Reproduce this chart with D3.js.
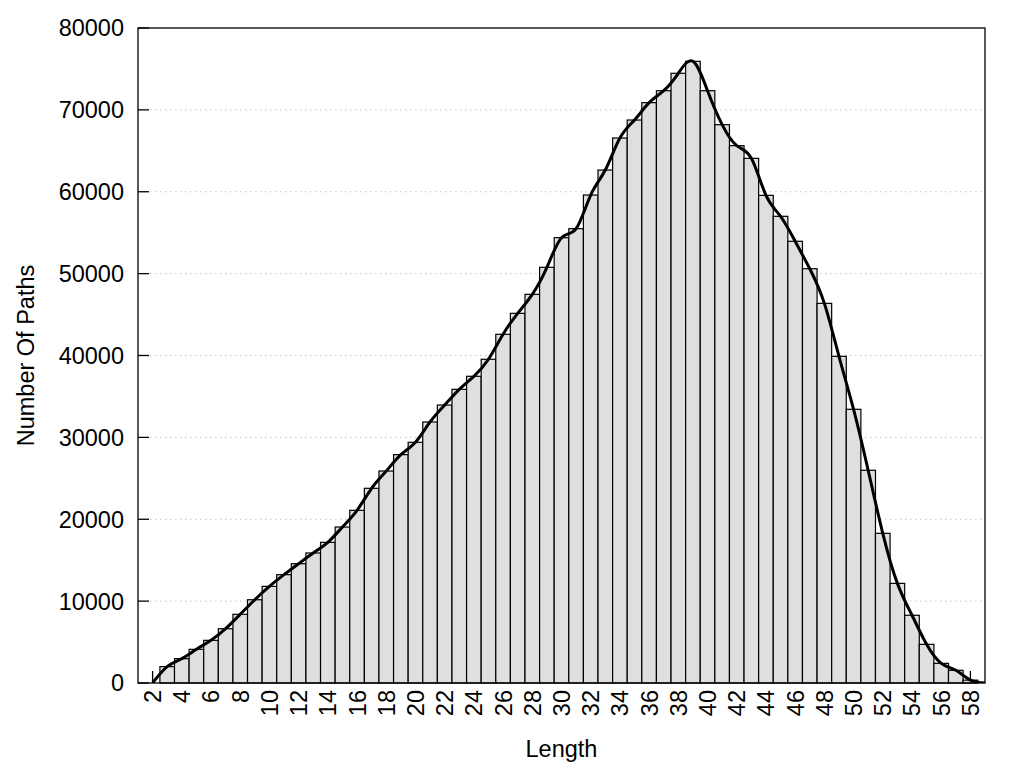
<!DOCTYPE html>
<html>
<head>
<meta charset="utf-8">
<script src="https://d3js.org/d3.v7.min.js"></script>
<style>
  body { margin: 0; background: #fff; }
  text { font-family: "Liberation Sans", Arial, sans-serif; fill: #000; }
</style>
</head>
<body>
<div id="my_hist"></div>
<script>

// ======================= //
// DATA
// ======================= //

// path lengths (x) and number of paths (y)
var lengths = [2, 3, 4, 5, 6, 7, 8, 9, 10, 11, 12, 13, 14, 15, 16, 17, 18, 19, 20,
  21, 22, 23, 24, 25, 26, 27, 28, 29, 30, 31, 32, 33, 34, 35, 36, 37, 38, 39, 40,
  41, 42, 43, 44, 45, 46, 47, 48, 49, 50, 51, 52, 53, 54, 55, 56, 57, 58, 59]
var counts = [0, 2000, 2970, 4110, 5210, 6630, 8390, 10170, 11800, 13230, 14570, 15880, 17180, 19050, 21090, 23780, 25890, 27890, 29400,
  31880, 33950, 35870, 37460, 39540, 42590, 45150, 47470, 50770, 54390, 55490, 59600, 62650, 66560, 68760, 70880, 72340, 74470, 75930, 72340,
  68190, 65630, 64080, 59560, 57000, 53950, 50600, 46370, 39900, 33430, 25980, 18280, 12170, 8270, 4720, 2400, 1550, 350, 0]

var xTicks = d3.range(2, 59, 2)
var yTicks = [0, 10000, 20000, 30000, 40000, 50000, 60000, 70000, 80000]

var data = lengths.map(function(d, i){ return {len: d, value: counts[i]} })

// ======================= //
// SVG AREA
// ======================= //

var margin = {top: 28, right: 39, bottom: 85, left: 138},
    width = 1024 - margin.left - margin.right,
    height = 768 - margin.top - margin.bottom;

var svg = d3.select("#my_hist")
  .append("svg")
    .attr("width", 1024)
    .attr("height", 768)
  .append("g")
    .attr("transform", "translate(" + margin.left + "," + margin.top + ")");

// scales
var x = d3.scaleLinear()
  .domain([1, 59])
  .range([0, width])

var y = d3.scaleLinear()
  .domain([0, 80000])
  .range([height, 0])

svg.append("clipPath")
    .attr("id", "plotClip")
  .append("rect")
    .attr("width", width)
    .attr("height", height)

// ======================= //
// GRID + TICKS (behind the bars)
// ======================= //

svg.selectAll("gridLines")
  .data(yTicks.slice(1, -1))
  .enter()
  .append("line")
    .attr("x1", 12)
    .attr("x2", width)
    .attr("y1", function(d){ return y(d) })
    .attr("y2", function(d){ return y(d) })
    .attr("stroke", "#c4c4c4")
    .attr("stroke-width", 1)
    .style("stroke-dasharray", "1.5,3.5")

// y ticks, inward
svg.selectAll("yTickMarks")
  .data(yTicks)
  .enter()
  .append("line")
    .attr("x1", 0)
    .attr("x2", 11)
    .attr("y1", function(d){ return y(d) })
    .attr("y2", function(d){ return y(d) })
    .attr("stroke", "black")
    .attr("stroke-width", 1.3)

// x ticks, inward
svg.selectAll("xTickMarks")
  .data(xTicks)
  .enter()
  .append("line")
    .attr("x1", function(d){ return x(d) })
    .attr("x2", function(d){ return x(d) })
    .attr("y1", height)
    .attr("y2", height - 12)
    .attr("stroke", "black")
    .attr("stroke-width", 1.3)

// ======================= //
// BARS
// ======================= //

svg.append("g")
  .selectAll("rect")
  .data(data.filter(function(d){ return d.value > 0 }))
  .enter()
  .append("rect")
    .attr("x", function(d){ return x(d.len - 0.5) })
    .attr("width", function(d){ return x(d.len + 0.5) - x(d.len - 0.5) })
    .attr("y", function(d){ return y(d.value) })
    .attr("height", function(d){ return y(0) - y(d.value) })
    .attr("fill", "#dfdfdf")
    .attr("stroke", "black")
    .attr("stroke-width", 1.2)

// ======================= //
// SMOOTH CURVE
// ======================= //

var line = d3.line()
  .curve(d3.curveNatural)
  .x(function(d){ return x(d.len) })
  .y(function(d){ return y(d.value) })

svg.append("path")
  .datum(data)
  .attr("clip-path", "url(#plotClip)")
  .attr("d", line)
  .attr("fill", "none")
  .attr("stroke", "black")
  .attr("stroke-width", 3)
  .attr("stroke-linejoin", "round")

// border
svg.append("rect")
  .attr("width", width)
  .attr("height", height)
  .attr("fill", "none")
  .attr("stroke", "black")
  .attr("stroke-width", 1.3)

// ======================= //
// LABELS
// ======================= //

svg.selectAll("yLabels")
  .data(yTicks)
  .enter()
  .append("text")
    .attr("x", -14)
    .attr("y", function(d){ return y(d) })
    .attr("dy", "0.36em")
    .text(function(d){ return d })
    .style("font-size", 23.5)
    .style("text-anchor", "end")

svg.selectAll("xLabels")
  .data(xTicks)
  .enter()
  .append("text")
    .text(function(d){ return d })
    .style("font-size", 23.5)
    .style("text-anchor", "end")
    .attr("dy", "0.36em")
    .attr("transform", function(d){
      return "translate(" + x(d) + "," + (height + 7) + ") rotate(-90)" })

// axis titles
svg.append("text")
  .attr("x", width / 2)
  .attr("y", height + 74)
  .style("font-size", 23.5)
  .style("text-anchor", "middle")
  .text("Length")

svg.append("text")
  .attr("transform", "translate(" + (-104) + "," + (height / 2) + ") rotate(-90)")
  .style("font-size", 23.5)
  .style("text-anchor", "middle")
  .text("Number Of Paths")

</script>
</body>
</html>
